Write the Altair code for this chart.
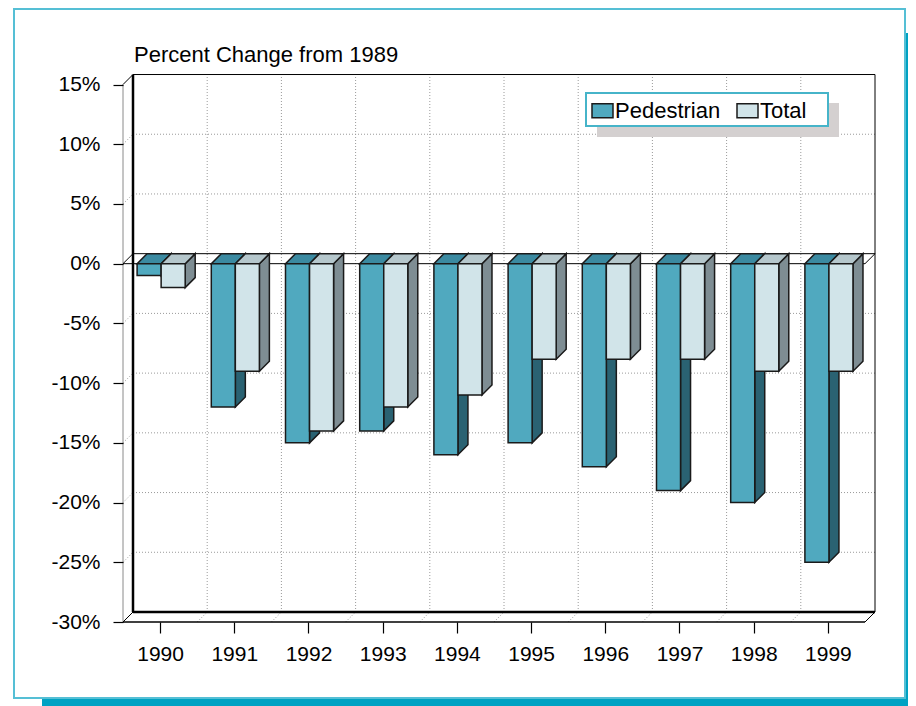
import altair as alt
import pandas as pd

# ---------------- data ----------------
years = [1990, 1991, 1992, 1993, 1994, 1995, 1996, 1997, 1998, 1999]
pedestrian = [-1, -12, -15, -14, -16, -15, -17, -19, -20, -25]
total = [-2, -9, -14, -12, -11, -8, -8, -8, -9, -9]
series_names = ["Pedestrian", "Total"]
y_ticks = [-30, -25, -20, -15, -10, -5, 0, 5, 10, 15]
chart_title = "Percent Change from 1989"

# ---------------- styles / geometry ----------------
FONT = "Liberation Sans"
front_colors = {"Pedestrian": "#50a9bf", "Total": "#d1e4e9"}
top_colors = {"Pedestrian": "#3b8aa1", "Total": "#b5c7cc"}
side_colors = {"Pedestrian": "#2a6272", "Total": "#7e8d93"}
OUTLINE = "#1a1a1a"

PX_YEAR = 74.2      # pixels per category
PX_PCT = 11.944     # pixels per percent
DEPTH = 10          # 3-D depth in pixels
W, H = 752, 548
DX = DEPTH / PX_YEAR
DY = DEPTH / PX_PCT
XL = years[0] - 0.5           # front left
XR = years[-1] + 0.5          # front right
YB = y_ticks[0]               # front bottom
YT = y_ticks[-1]              # front top
X_DOMAIN = [XL, XL + W / PX_YEAR]
Y_DOMAIN = [YB, YB + H / PX_PCT]
BAR_W = 0.324
START = -0.31

xs = alt.Scale(domain=X_DOMAIN, nice=False, zero=False)
ys = alt.Scale(domain=Y_DOMAIN, nice=False, zero=False)
x_axis = alt.Axis(values=years, format="d", title=None, domain=False, grid=False,
                  tickSize=11, tickColor="black", tickWidth=1.2, labelFontSize=21,
                  labelFont=FONT, labelColor="black", labelPadding=10, zindex=1)
y_axis = alt.Axis(values=y_ticks, labelExpr="datum.value + '%'", title=None, domain=False,
                  grid=False, tickSize=10, tickColor="black", tickWidth=1.2, labelFontSize=21,
                  labelFont=FONT, labelColor="black", labelPadding=13, zindex=1)


def X(f):
    return alt.X(f, type="quantitative", scale=xs, axis=x_axis, stack=None)


def Y(f):
    return alt.Y(f, type="quantitative", scale=ys, axis=y_axis, stack=None)


# ---------------- bar faces ----------------
front_rows = []
side_rows = {s: [] for s in series_names}
top_rows = {s: [] for s in series_names}
for si, (name, vals) in enumerate(zip(series_names, [pedestrian, total])):
    for yr, v in zip(years, vals):
        x0 = yr + START + si * BAR_W
        x1 = x0 + BAR_W
        key = f"{name}-{yr}"
        front_rows.append(dict(series=name, year=yr, bx0=x0, bx1=x1, bv=v, bz=0))
        side_rows[name].append(dict(key=key, sx=x1, sy=0.0, sy2=v))
        side_rows[name].append(dict(key=key, sx=x1 + DX, sy=DY, sy2=v + DY))
        top_rows[name].append(dict(key=key, ty=0.0, tx=x0, tx2=x1))
        top_rows[name].append(dict(key=key, ty=DY, tx=x0 + DX, tx2=x1 + DX))

front_df = pd.DataFrame(front_rows)

# ---------------- frame / grid segments ----------------
def seg(a, b, c, d):
    return dict(lx=a, ly=b, lx2=c, ly2=d)

bounds = [y + 0.5 for y in years[:-1]]
inner_ticks = [t for t in y_ticks if t not in (YB, YT, 0)]
dotted = []
for t in inner_ticks:
    dotted.append(seg(XL + DX, t + DY, XR + DX, t + DY))   # back wall horizontal
    dotted.append(seg(XL, t, XL + DX, t + DY))             # left wall diagonal
for b in bounds:
    dotted.append(seg(b + DX, YB + DY, b + DX, YT + DY))   # back wall vertical
    dotted.append(seg(b, YB, b + DX, YB + DY))             # floor diagonal
dotted_df = pd.DataFrame(dotted)

thin = pd.DataFrame([
    seg(XL, YT, XL + DX, YT + DY),
    seg(XL + DX, YT + DY, XR + DX, YT + DY),
    seg(XR + DX, YB + DY, XR + DX, YT + DY),
    seg(XL, YB, XL + DX, YB + DY),
    seg(XR, YB, XR + DX, YB + DY),
    # zero plane
    seg(XL, 0, XR, 0),
    seg(XL + DX, DY, XR + DX, DY),
    seg(XL, 0, XL + DX, DY),
    seg(XR, 0, XR + DX, DY),
])
thick = pd.DataFrame([
    seg(XL + DX, YB + DY, XL + DX, YT + DY),
    seg(XL + DX, YB + DY, XR + DX, YB + DY),
])
front_bottom = pd.DataFrame([seg(XL, YB, XR, YB)])
front_left = pd.DataFrame([seg(XL, YB, XL, YT)])

one = pd.DataFrame({"a": [0]})


def rules(df, **kw):
    return alt.Chart(df).mark_rule(**kw).encode(x=X("lx"), y=Y("ly"), x2="lx2", y2="ly2")


# ---------------- layers ----------------
shadow = alt.Chart(one).mark_rect(fill="#00a2c3").encode(
    x=alt.value(-81), x2=alt.value(790), y=alt.value(-41), y2=alt.value(632))
frame = alt.Chart(one).mark_rect(fill="white", stroke="#55bfd5", strokeWidth=2).encode(
    x=alt.value(-109), x2=alt.value(782), y=alt.value(-65), y2=alt.value(624))

dots = rules(dotted_df, color="#9a9a9a", strokeDash=[1, 2], strokeWidth=1)
left_line = rules(front_left, color="#8a8a8a", strokeWidth=1)
thin_lines = rules(thin, color="black", strokeWidth=1)
thick_lines = rules(thick, color="black", strokeWidth=2.5)
bottom_line = rules(front_bottom, color="black", strokeWidth=1.5)

legend_shadow = alt.Chart(one).mark_rect(fill="#d4d0d0").encode(
    x=alt.value(474), x2=alt.value(716), y=alt.value(29), y2=alt.value(63))
legend_box = alt.Chart(one).mark_rect(fill="white", stroke="#46b4c9", strokeWidth=2).encode(
    x=alt.value(463), x2=alt.value(705), y=alt.value(19), y2=alt.value(52))

face_layers = []
for name in series_names:
    face_layers.append(
        alt.Chart(pd.DataFrame(side_rows[name])).mark_area(
            orient="vertical", fill=side_colors[name], stroke=OUTLINE, strokeWidth=1.5,
            strokeJoin="miter", opacity=1, fillOpacity=1
        ).encode(x=X("sx"), y=Y("sy"), y2="sy2", detail="key:N")
    )
for name in series_names:
    face_layers.append(
        alt.Chart(pd.DataFrame(top_rows[name])).mark_area(
            orient="horizontal", fill=top_colors[name], stroke=OUTLINE, strokeWidth=1.5,
            strokeJoin="miter", opacity=1, fillOpacity=1
        ).encode(y=Y("ty"), x=X("tx"), x2="tx2", detail="key:N")
    )

fronts = alt.Chart(front_df).mark_rect(stroke=OUTLINE, strokeWidth=1.5, opacity=1).encode(
    x=X("bx0"), x2="bx1", y=Y("bz"), y2="bv",
    color=alt.Color("series:N",
                    scale=alt.Scale(domain=series_names,
                                    range=[front_colors[s] for s in series_names]),
                    legend=alt.Legend(orient="none", legendX=468, legendY=25,
                                      direction="horizontal", title=None,
                                      symbolType="M-1,-0.667H1V0.667H-1Z", symbolSize=441,
                                      symbolStrokeColor=OUTLINE, symbolStrokeWidth=1.5,
                                      symbolOpacity=1, labelFontSize=22, labelFont=FONT,
                                      labelColor="black", labelOffset=1, columnPadding=13,
                                      padding=0)))

title_text = alt.Chart(pd.DataFrame({"t": [chart_title]})).mark_text(
    align="left", baseline="alphabetic", fontSize=22, font=FONT, color="black").encode(
    text="t:N", x=alt.value(11), y=alt.value(-12))

chart = alt.layer(
    shadow, frame, dots, left_line, thick_lines, thin_lines, bottom_line,
    legend_shadow, legend_box, *face_layers, fronts, title_text
).properties(
    width=W, height=H,
    autosize=alt.AutoSizeParams(type="none"),
    padding={"left": 115, "top": 66, "right": 33, "bottom": 84},
    background="white",
).configure_view(stroke=None)

chart.save("out.html", embed_options={"renderer": "svg", "actions": False})
